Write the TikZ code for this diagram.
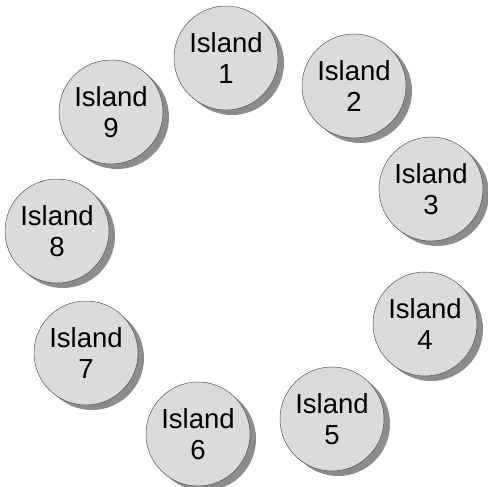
\documentclass[tikz,border=0pt]{standalone}
\usepackage{fontspec}
\setmainfont{Liberation Sans}
\usepackage{tikz}
\usetikzlibrary{shadows}

\begin{document}
\begin{tikzpicture}[
  x=0.3mm, y=-0.3mm,
  island/.style={circle, draw=black!70, thin, fill=black!14, minimum size=31.2mm, inner sep=0pt, align=center,
    font=\fontsize{23.5}{27}\selectfont,
    drop shadow={shadow xshift=1.8mm, shadow yshift=-1.5mm, fill=black!45, opacity=1}}
]
\useasboundingbox (0,0) rectangle (487,487);
\node[island] (isl1) at (226,58) {Island\\1};
\node[island] (isl2) at (354,86) {Island\\2};
\node[island] (isl3) at (431,189) {Island\\3};
\node[island] (isl4) at (425,324) {Island\\4};
\node[island] (isl5) at (332,419) {Island\\5};
\node[island] (isl6) at (198,434) {Island\\6};
\node[island] (isl7) at (86,353) {Island\\7};
\node[island] (isl8) at (57,231) {Island\\8};
\node[island] (isl9) at (111,112) {Island\\9};
\end{tikzpicture}
\end{document}
